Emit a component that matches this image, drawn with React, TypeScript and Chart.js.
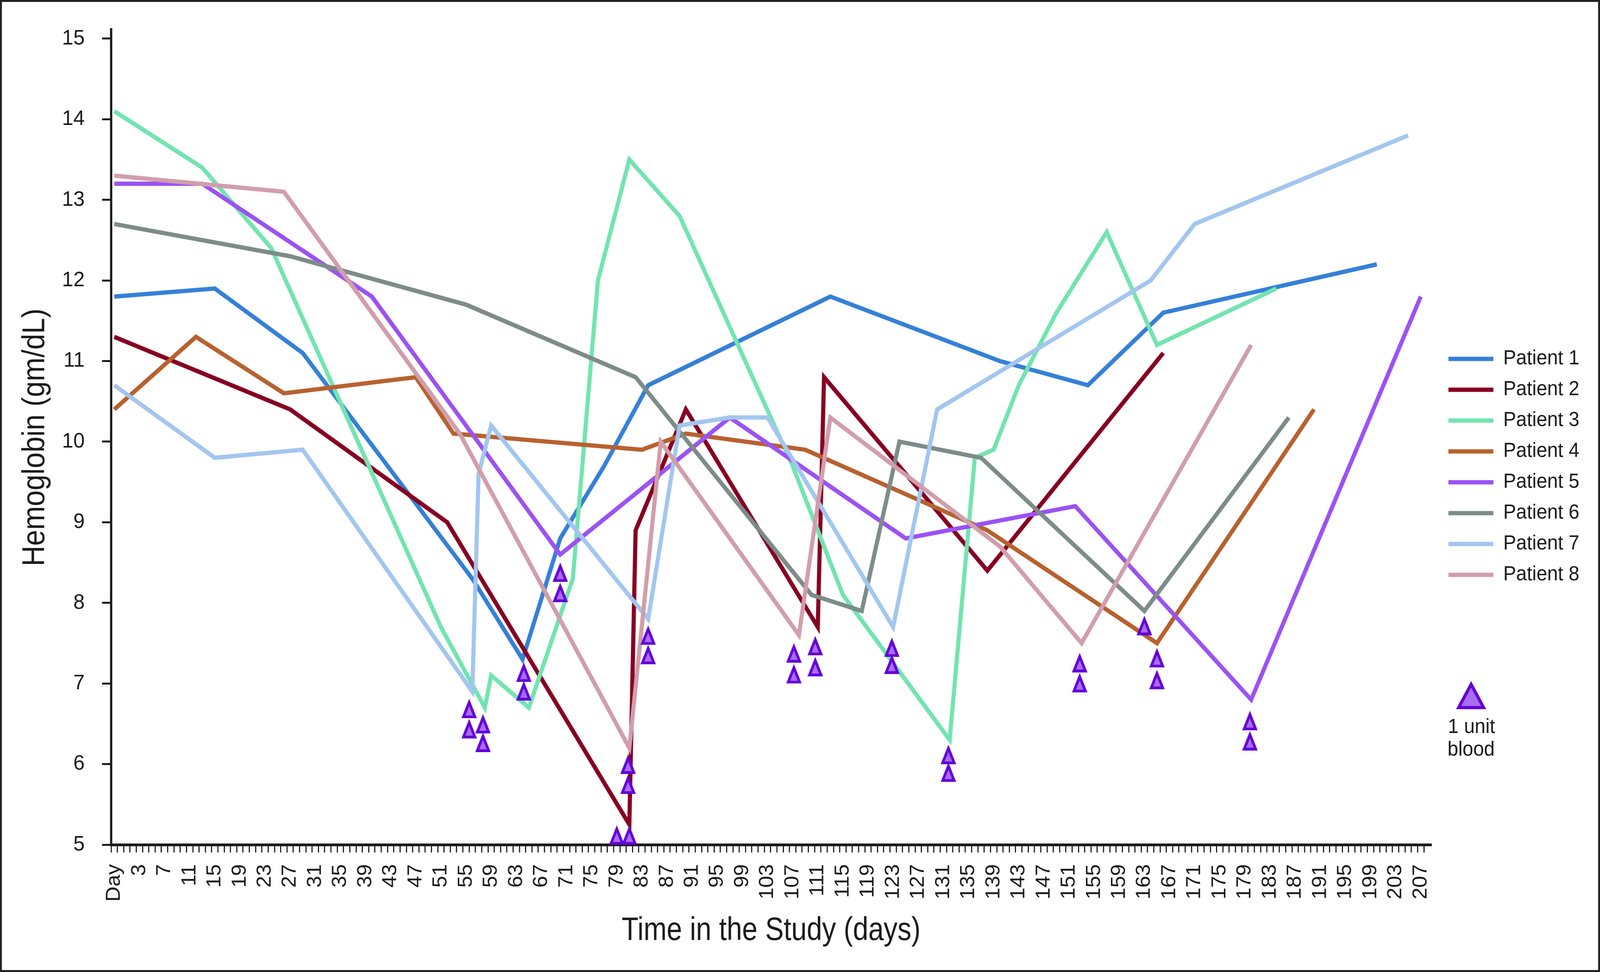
import { useEffect, useRef, useState } from 'react'
import { Chart, registerables } from 'chart.js'

Chart.register(...registerables)

const W = 4233
const H = 2489

const patientNames = ['Patient 1', 'Patient 2', 'Patient 3', 'Patient 4', 'Patient 5', 'Patient 6', 'Patient 7', 'Patient 8']
const patientColors = ['#3580d8', '#870022', '#72e4b0', '#b8612f', '#9b52f2', '#7d8c89', '#a3c6ef', '#d19eab']

// day of study (-1 = "Day" baseline) and hemoglobin in gm/dL
const p1Days = [-1, 15, 29, 56, 64, 70, 77, 84, 113, 140, 154, 166, 200]
const p1Hb = [11.8, 11.9, 11.1, 8.3, 7.3, 8.8, 9.7, 10.7, 11.8, 11.0, 10.7, 11.6, 12.2]

const p2Days = [-1, 27, 52, 81, 82, 90, 111, 112, 138, 166]
const p2Hb = [11.3, 10.4, 9.0, 5.25, 8.9, 10.4, 7.7, 10.8, 8.4, 11.1]

const p3Days = [-1, 13, 24, 51, 58, 59, 65, 72, 76, 81, 89, 107, 115, 132, 136, 139, 143, 149, 157, 165, 184]
const p3Hb = [14.1, 13.4, 12.4, 7.7, 6.7, 7.1, 6.7, 8.3, 12.0, 13.5, 12.8, 9.7, 8.1, 6.3, 9.8, 9.9, 10.7, 11.6, 12.6, 11.2, 11.9]

const p4Days = [-1, 12, 26, 47, 53, 83, 90, 109, 138, 165, 190]
const p4Hb = [10.4, 11.3, 10.6, 10.8, 10.1, 9.9, 10.1, 9.9, 8.9, 7.5, 10.4]

const p5Days = [-1, 13, 40, 70, 97, 125, 152, 180, 207]
const p5Hb = [13.2, 13.2, 11.8, 8.6, 10.3, 8.8, 9.2, 6.8, 11.8]

const p6Days = [-1, 27, 55, 82, 110, 118, 124, 137, 163, 186]
const p6Hb = [12.7, 12.3, 11.7, 10.8, 8.1, 7.9, 10.0, 9.8, 7.9, 10.3]

const p7Days = [-1, 15, 29, 56, 57, 59, 84, 89, 97, 103, 123, 130, 164, 171, 205]
const p7Hb = [10.7, 9.8, 9.9, 6.9, 9.6, 10.2, 7.8, 10.2, 10.3, 10.3, 7.7, 10.4, 12.0, 12.7, 13.8]

const p8Days = [-1, 26, 54, 81, 86, 108, 113, 140, 153, 180]
const p8Hb = [13.3, 13.1, 10.1, 6.2, 10.0, 7.6, 10.3, 8.7, 7.5, 11.2]

// one triangle per unit of blood transfused
const transfusionDays = [55.5, 55.5, 57.7, 57.7, 64.2, 64.2, 70, 70, 79, 81, 80.8, 80.8, 84, 84, 107.2, 107.2, 110.6, 110.6, 122.8, 122.8, 131.8, 131.8, 152.7, 152.7, 163, 165, 165, 179.8, 179.8]
const transfusionHb = [6.69, 6.44, 6.5, 6.27, 7.14, 6.91, 8.38, 8.13, 5.12, 5.12, 6.0, 5.75, 7.6, 7.36, 7.38, 7.12, 7.47, 7.21, 7.45, 7.24, 6.12, 5.9, 7.26, 7.01, 7.72, 7.32, 7.05, 6.54, 6.29]

// labels on every 4th day starting at the "Day" baseline (-1)
const xTickText = ['Day', '3', '7', '11', '15', '19', '23', '27', '31', '35', '39', '43', '47', '51', '55', '59', '63', '67', '71', '75', '79', '83', '87', '91', '95', '99', '103', '107', '111', '115', '119', '123', '127', '131', '135', '139', '143', '147', '151', '155', '159', '163', '167', '171', '175', '179', '183', '187', '191', '195', '199', '203', '207']
const yTickValues = [5, 6, 7, 8, 9, 10, 11, 12, 13, 14, 15]

const seriesDays = [p1Days, p2Days, p3Days, p4Days, p5Days, p6Days, p7Days, p8Days]
const seriesHb = [p1Hb, p2Hb, p3Hb, p4Hb, p5Hb, p6Hb, p7Hb, p8Hb]

const TEXT = '#1a1a1a'
const SANS = '"Liberation Sans", Arial, Helvetica, sans-serif'

function makeTriangle(w: number, h: number, t: number) {
  const c = document.createElement('canvas')
  c.width = w
  c.height = h
  const ctx = c.getContext('2d')!
  const s = Math.sqrt((w / 2) ** 2 + h ** 2)
  const r = (w * h) / (w + 2 * s)
  const cx = w / 2
  const cy = h - r
  const k = (r - t) / r
  const outer = [[w / 2, 0], [0, h], [w, h]]
  ctx.fillStyle = '#6200d9'
  ctx.beginPath()
  outer.forEach(([x, y], i) => (i ? ctx.lineTo(x, y) : ctx.moveTo(x, y)))
  ctx.closePath()
  ctx.fill()
  ctx.fillStyle = '#a96cf3'
  ctx.beginPath()
  outer.forEach(([x, y], i) => {
    const ix = cx + (x - cx) * k
    const iy = cy + (y - cy) * k
    if (i) ctx.lineTo(ix, iy)
    else ctx.moveTo(ix, iy)
  })
  ctx.closePath()
  ctx.fill()
  return c
}

// condensed title text: squeeze a regular face to the width seen in the figure
function drawSqueezed(ctx: CanvasRenderingContext2D, text: string, x: number, y: number, width: number, rotate: boolean) {
  ctx.save()
  ctx.font = '84px ' + SANS
  ctx.fillStyle = TEXT
  ctx.textAlign = 'center'
  ctx.textBaseline = 'middle'
  const k = width / ctx.measureText(text).width
  ctx.translate(x, y)
  if (rotate) ctx.rotate(-Math.PI / 2)
  ctx.scale(k, 1)
  ctx.fillText(text, 0, 0)
  ctx.restore()
}

export default function App() {
  const chartRef = useRef<HTMLCanvasElement | null>(null)
  const chartInstance = useRef<Chart | null>(null)
  const [fit, setFit] = useState({ sx: 1, sy: 1 })

  useEffect(() => {
    document.body.style.margin = '0'
    document.body.style.overflow = 'hidden'
    document.documentElement.style.overflow = 'hidden'
    setFit({ sx: window.innerWidth / W, sy: window.innerHeight / H })
  }, [])

  useEffect(() => {
    if (!chartRef.current) return
    if (chartInstance.current) chartInstance.current.destroy()

    const plotTri = makeTriangle(41, 50, 7)
    const legendTri = makeTriangle(80, 72, 8)

    const sideLegend = {
      id: 'sideLegend',
      afterDraw(chart: Chart) {
        const ctx = chart.ctx
        ctx.save()
        ctx.font = '51px ' + SANS
        ctx.textBaseline = 'middle'
        patientNames.forEach((name, i) => {
          const y = 919 + i * 79
          ctx.strokeStyle = patientColors[i]
          ctx.lineWidth = 11
          ctx.lineCap = 'butt'
          ctx.beginPath()
          ctx.moveTo(3832, y)
          ctx.lineTo(3951, y)
          ctx.stroke()
          ctx.fillStyle = TEXT
          ctx.textAlign = 'left'
          ctx.fillText(name, 3977, y)
        })
        ctx.drawImage(legendTri, 3892 - 40, 1780 - 36)
        ctx.fillStyle = TEXT
        ctx.textAlign = 'center'
        ctx.fillText('1 unit', 3893, 1863)
        ctx.fillText('blood', 3892, 1921)
        ctx.restore()

        drawSqueezed(ctx, 'Time in the Study (days)', 2040, 2384, 791, false)
        drawSqueezed(ctx, 'Hemoglobin (gm/dL)', 94, 1120, 660, true)
      },
    }

    const ctx = chartRef.current.getContext('2d')
    if (!ctx) return

    const lineSets = seriesDays.map((days, i) => ({
      type: 'line' as const,
      label: patientNames[i],
      data: days.map((d, j) => ({ x: d, y: seriesHb[i][j] })),
      borderColor: patientColors[i],
      backgroundColor: patientColors[i],
      borderWidth: 11,
      borderJoinStyle: 'miter' as const,
      pointRadius: 0,
      tension: 0,
      fill: false,
      order: 8 - i,
    }))

    chartInstance.current = new Chart(ctx, {
      type: 'line',
      data: {
        datasets: [
          ...lineSets,
          {
            type: 'line' as const,
            label: '1 unit blood',
            data: transfusionDays.map((d, j) => ({ x: d, y: transfusionHb[j] })),
            showLine: false,
            pointStyle: plotTri,
            pointRadius: 20,
            clip: false,
            order: -1,
          },
        ],
      },
      options: {
        responsive: true,
        maintainAspectRatio: false,
        animation: false,
        events: [],
        layout: { padding: { top: 75, right: W - 3787, bottom: 0, left: 0 } },
        plugins: {
          legend: { display: false },
          tooltip: { enabled: false },
        },
        scales: {
          x: {
            type: 'linear',
            min: -1.5,
            max: 208.7,
            afterBuildTicks: (scale: any) => {
              scale.ticks = Array.from({ length: 209 }, (_, i) => ({ value: i - 1 }))
            },
            afterFit: (scale: any) => {
              scale.height = H - 2163
              scale.paddingLeft = 0
              scale.paddingRight = 0
            },
            ticks: {
              autoSkip: false,
              minRotation: 90,
              maxRotation: 90,
              padding: 30,
              color: TEXT,
              font: { family: SANS, size: 54 },
              callback: (value: any) => {
                const i = (Number(value) + 1) / 4
                return Number.isInteger(i) && xTickText[i] ? xTickText[i] : ''
              },
            },
            grid: {
              display: true,
              offset: true,
              drawOnChartArea: false,
              tickLength: 20,
              tickWidth: 3,
              tickColor: TEXT,
            },
            border: { display: true, width: 7, color: TEXT },
          },
          y: {
            type: 'linear',
            min: 5,
            max: 15.116,
            afterBuildTicks: (scale: any) => {
              scale.ticks = yTickValues.map((v) => ({ value: v }))
            },
            afterFit: (scale: any) => {
              scale.width = 294
              scale.paddingTop = 0
              scale.paddingBottom = 0
            },
            ticks: {
              padding: 46,
              color: TEXT,
              font: { family: SANS, size: 54 },
            },
            grid: {
              display: true,
              drawOnChartArea: false,
              tickLength: 24,
              tickWidth: 5,
              tickColor: TEXT,
            },
            border: { display: true, width: 6, color: TEXT },
          },
        },
      },
      plugins: [sideLegend],
    } as any)

    return () => {
      if (chartInstance.current) {
        chartInstance.current.destroy()
        chartInstance.current = null
      }
    }
  }, [])

  return (
    <div style={{ width: W * fit.sx, height: H * fit.sy, overflow: 'hidden' }}>
      <div
        style={{
          position: 'relative',
          width: W,
          height: H,
          background: '#fff',
          transform: `scale(${fit.sx}, ${fit.sy})`,
          transformOrigin: '0 0',
        }}
      >
        <canvas ref={chartRef}></canvas>
        <div
          style={{
            position: 'absolute',
            inset: 0,
            border: '5px solid #222',
            pointerEvents: 'none',
          }}
        />
      </div>
    </div>
  )
}
